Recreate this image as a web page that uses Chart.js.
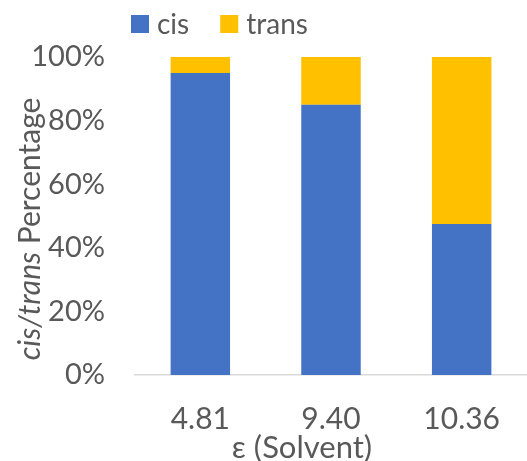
<!DOCTYPE html>
<html>
<head>
<meta charset="utf-8">
<script src="https://cdn.jsdelivr.net/npm/chart.js@4/dist/chart.umd.min.js"></script>
<style>
html,body{margin:0;padding:0;background:#fff;}
#wrap{width:527px;height:461px;}
</style>
</head>
<body>
<div id="wrap"><canvas id="c" width="527" height="461"></canvas></div>
<script>
const categories = ["4.81", "9.40", "10.36"];
const cisValues = [95, 85, 47.5];
const transValues = [5, 15, 52.5];
const yTicks = [0, 20, 40, 60, 80, 100];
const seriesNames = ["cis", "trans"];
const xTitle = "ε (Solvent)";

const FONT = "Lato, 'Open Sans', sans-serif";
const TXT = "#595959";

const overlay = {
  id: "overlay",
  afterDraw(chart) {
    const ctx = chart.ctx;
    ctx.save();
    // legend
    ctx.font = "28px " + FONT;
    ctx.textBaseline = "alphabetic";
    ctx.textAlign = "left";
    let x = 131;
    chart.data.datasets.forEach((ds) => {
      ctx.fillStyle = ds.backgroundColor;
      ctx.fillRect(x, 15, 18, 18);
      ctx.fillStyle = TXT;
      ctx.fillText(ds.label, x + 26, 34);
      x += 26 + ctx.measureText(ds.label).width + 31;
    });
    // x title
    ctx.font = "31px " + FONT;
    ctx.textAlign = "center";
    ctx.textBaseline = "middle";
    ctx.fillText(xTitle, 302, 448);
    // y title with italic parts
    const parts = [["cis/trans", true], [" Percentage", false]];
    const size = 30;
    let total = 0;
    parts.forEach(p => { ctx.font = (p[1] ? "italic " : "") + size + "px " + FONT; total += ctx.measureText(p[0]).width; });
    ctx.translate(40, 229);
    ctx.rotate(-Math.PI / 2);
    ctx.textAlign = "left";
    ctx.textBaseline = "alphabetic";
    let px = -total / 2;
    parts.forEach(p => {
      ctx.font = (p[1] ? "italic " : "") + size + "px " + FONT;
      ctx.fillText(p[0], px, 0);
      px += ctx.measureText(p[0]).width;
    });
    ctx.restore();
  }
};

new Chart(document.getElementById("c"), {
  type: "bar",
  data: {
    labels: categories,
    datasets: [
      { label: seriesNames[0], data: cisValues, backgroundColor: "#4472C4", barPercentage: 0.455, categoryPercentage: 1 },
      { label: seriesNames[1], data: transValues, backgroundColor: "#FFC000", barPercentage: 0.455, categoryPercentage: 1 }
    ]
  },
  options: {
    responsive: false,
    animation: false,
    layout: { padding: { top: 57, right: -5, left: 0, bottom: 0 } },
    plugins: { legend: { display: false }, tooltip: { enabled: false } },
    scales: {
      x: {
        stacked: true,
        grid: { display: false, drawTicks: false },
        border: { display: true, color: "#D9D9D9", width: 1.5 },
        ticks: { color: TXT, font: { family: FONT, size: 30 }, padding: 26, maxRotation: 0 },
        afterFit(s) { s.height = 86; }
      },
      y: {
        stacked: true,
        min: 0, max: 100,
        afterBuildTicks(s) { s.ticks = yTicks.map(v => ({ value: v })); },
        grid: { display: false, drawTicks: false },
        border: { display: false },
        ticks: { color: TXT, font: { family: FONT, size: 29 }, padding: 30, callback: v => v + "%" },
        afterFit(s) { s.width = 135; }
      }
    }
  },
  plugins: [overlay]
});
</script>
</body>
</html>
